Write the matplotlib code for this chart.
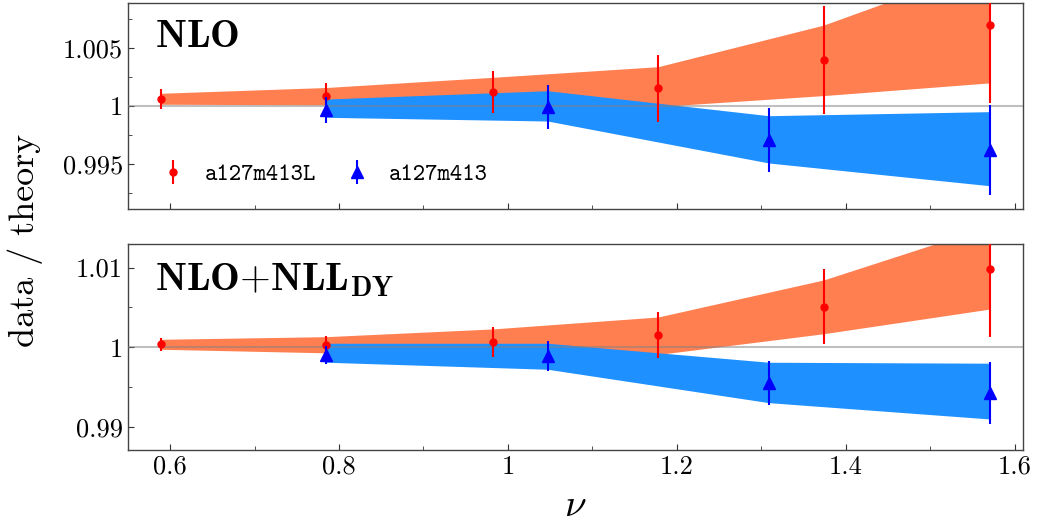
import numpy as np
import matplotlib
matplotlib.use('Agg')
import matplotlib.pyplot as plt

# nu values for the two ensembles
nu_L = [0.589, 0.785, 0.982, 1.178, 1.374, 1.571]
nu = [0.785, 1.047, 1.309, 1.571]

# NLO panel
nlo_L = [1.00063, 1.00087, 1.00121, 1.00153, 1.00398, 1.00703]
nlo_L_err = [0.00085, 0.0011, 0.0018, 0.0029, 0.0047, 0.0068]
nlo = [0.99965, 0.99989, 0.99706, 0.99619]
nlo_err = [0.0011, 0.0019, 0.0028, 0.0039]
nlo_L_band_lo = [1.00015, 1.0001, 1.0000, 0.99995, 1.0009, 1.0020]
nlo_L_band_hi = [1.0011, 1.0016, 1.00248, 1.0034, 1.0070, 1.0122]
nlo_band_lo = [0.99902, 0.9987, 0.99507, 0.9931]
nlo_band_hi = [1.0006, 1.00132, 0.99916, 0.99951]

# NLO+NLL_DY panel
nll_L = [1.00038, 1.00033, 1.00067, 1.00154, 1.0051, 1.0098]
nll_L_err = [0.00084, 0.0011, 0.00184, 0.00285, 0.0047, 0.0085]
nll = [0.99903, 0.99891, 0.99552, 0.9943]
nll_err = [0.0011, 0.0019, 0.0028, 0.0039]
nll_L_band_lo = [0.99975, 0.9993, 0.9992, 0.9991, 1.0017, 1.0048]
nll_L_band_hi = [1.0010, 1.00133, 1.0023, 1.0038, 1.00845, 1.0152]
nll_band_lo = [0.99812, 0.99724, 0.99305, 0.9910]
nll_band_hi = [1.0005, 1.0005, 0.99812, 0.9980]

labels = ['a127m413L', 'a127m413']
xticks = [0.6, 0.8, 1.0, 1.2, 1.4, 1.6]
xticklabels = ['0.6', '0.8', '1', '1.2', '1.4', '1.6']
nlo_yticks = [0.995, 1.0, 1.005]
nlo_yticklabels = ['0.995', '1', '1.005']
nll_yticks = [0.99, 1.0, 1.01]
nll_yticklabels = ['0.99', '1', '1.01']

plt.rcParams['mathtext.fontset'] = 'cm'
plt.rcParams['font.family'] = 'serif'
plt.rcParams['font.serif'] = ['cmr10']
plt.rcParams['axes.unicode_minus'] = False


def draw_panel(ax, y_L, e_L, y, e, bL_lo, bL_hi, b_lo, b_hi):
    ax.fill_between(nu_L, bL_lo, bL_hi, color='coral', lw=0, zorder=1)
    ax.fill_between(nu, b_lo, b_hi, color='dodgerblue', lw=0, zorder=2)
    ax.axhline(1.0, color='grey', alpha=0.5, lw=1.5, zorder=3)
    ax.errorbar(nu_L, y_L, yerr=e_L, fmt='o', color='red', ms=5, lw=1.5,
                label=labels[0], zorder=4)
    ax.errorbar(nu, y, yerr=e, fmt='^', color='blue', ms=9, lw=1.5,
                label=labels[1], zorder=5)
    ax.set_xlim(0.55, 1.61)
    ax.set_xticks(xticks)
    ax.set_xticks([0.7, 0.9, 1.1, 1.3, 1.5], minor=True)
    ax.tick_params(which='both', direction='in', labelsize=19, color='#333333')
    ax.tick_params(which='major', length=4)
    ax.tick_params(which='minor', length=3)
    for s in ax.spines.values():
        s.set_color('#444444')
        s.set_linewidth(1.0)


fig = plt.figure(figsize=(10.38, 5.23), dpi=100)
ax1 = fig.add_axes([0.1233, 0.6004, 0.8622, 0.3939])
ax2 = fig.add_axes([0.1233, 0.1396, 0.8622, 0.3939])

draw_panel(ax1, nlo_L, nlo_L_err, nlo, nlo_err,
           nlo_L_band_lo, nlo_L_band_hi, nlo_band_lo, nlo_band_hi)
ax1.set_ylim(0.99109, 1.00891)
ax1.set_yticks(nlo_yticks)
ax1.set_yticklabels(nlo_yticklabels)
ax1.set_yticks([0.9925, 0.9975, 1.0025, 1.0075], minor=True)
ax1.set_xticklabels([])
ax1.text(0.03, 0.788, r'$\mathbf{NLO}$', transform=ax1.transAxes, fontsize=28.5)
ax1.legend(loc='center left', bbox_to_anchor=(0.02, 0.165), borderaxespad=0,
           ncol=2, frameon=False, prop={'family': 'cmtt10', 'size': 17},
           handlelength=1.5, handletextpad=0.58, columnspacing=1.0)

draw_panel(ax2, nll_L, nll_L_err, nll, nll_err,
           nll_L_band_lo, nll_L_band_hi, nll_band_lo, nll_band_hi)
ax2.set_ylim(0.98711, 1.01296)
ax2.set_yticks(nll_yticks)
ax2.set_yticklabels(nll_yticklabels)
ax2.set_yticks([0.995, 1.005], minor=True)
ax2.set_xticklabels(xticklabels)
ax2.text(0.03, 0.777, r'$\mathbf{NLO}{+}\mathbf{NLL}_{\mathbf{DY}}$',
         transform=ax2.transAxes, fontsize=28.5)
ax2.set_xlabel(r'$\nu$', fontsize=28, labelpad=7)

fig.text(0.024, 0.54, 'data / theory', rotation=90, fontsize=26,
         ha='center', va='center')

fig.savefig('out.png', dpi=100)
